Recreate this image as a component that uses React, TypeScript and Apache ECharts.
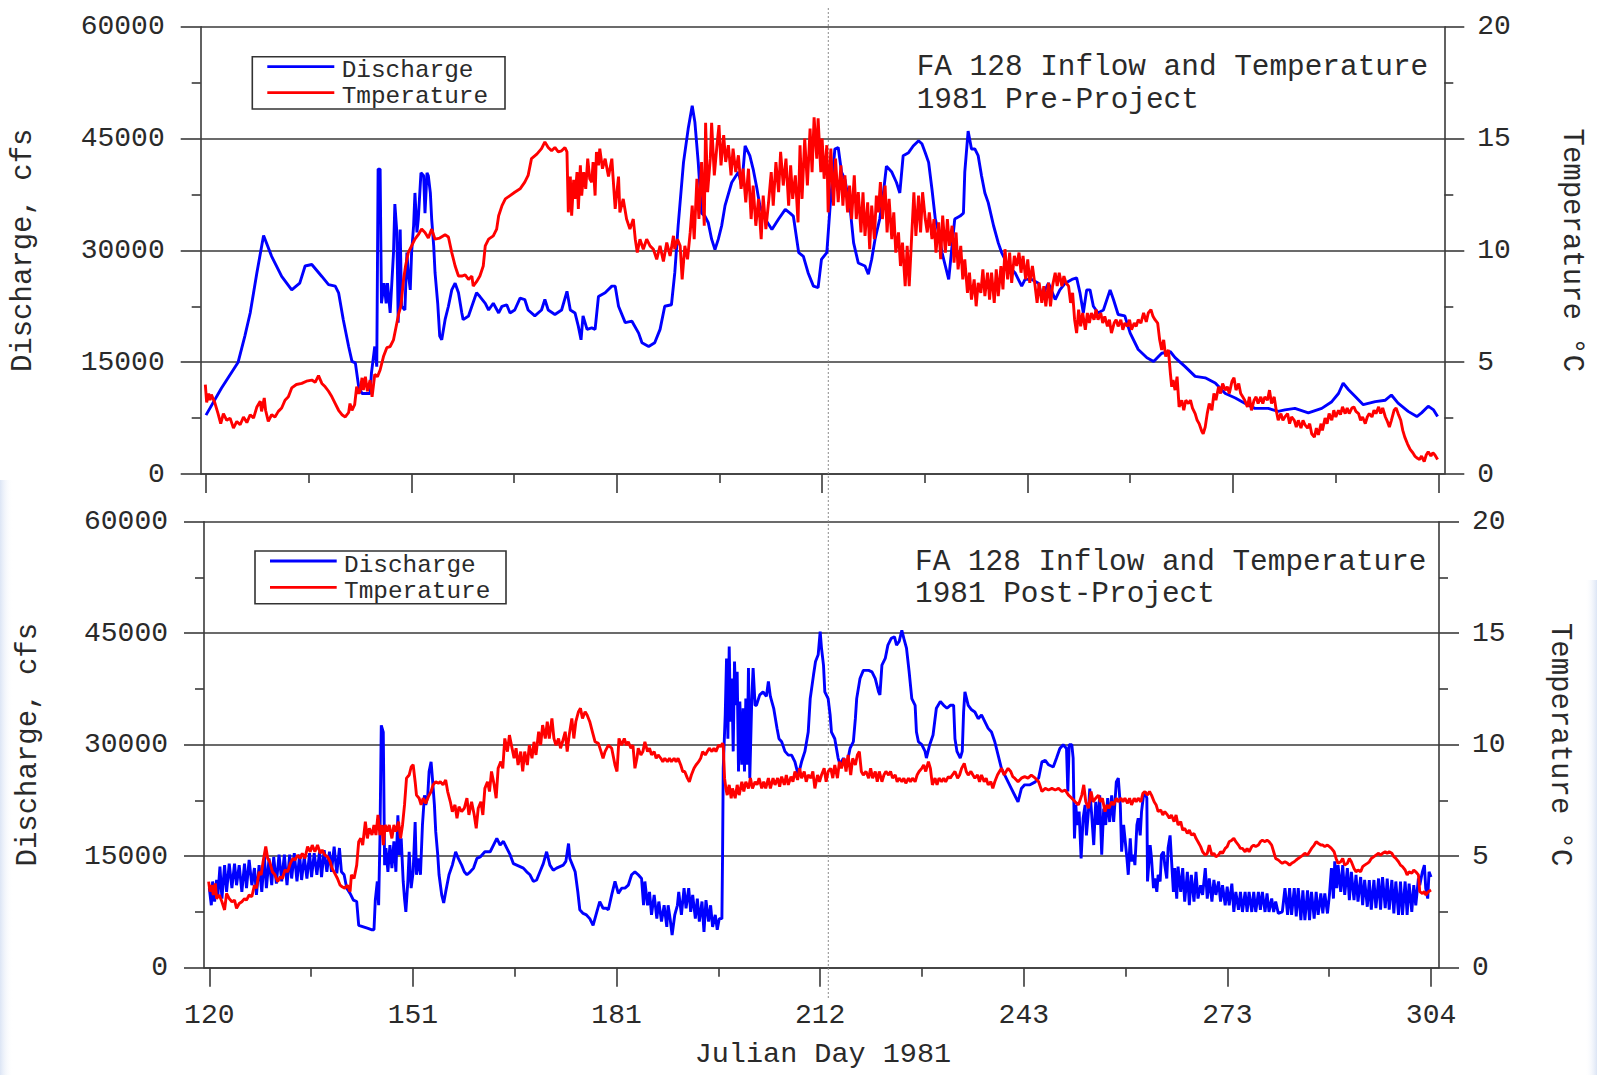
import React, { useEffect, useRef } from "react";
import * as echarts from "echarts";

// ---------------- DATA ----------------
// Julian day 1981, discharge in cfs, temperature in °C

const majorDayTicks = [120, 150.667, 181.333, 212, 242.667, 273.333, 304];
const minorDayTicks = [135.333, 166, 196.667, 227.333, 258, 288.667];

const preDischarge: [number, number][] = [
[120,7900],[122.3,11500],[124.8,15000],[125.8,18500],[126.6,21600],[127.6,27000],[128.6,32000],[129.8,29200],[131.3,26500],[132.8,24700],[134.0,25600],[134.8,27900],[135.8,28100],[137.3,26500],[138.3,25400],[139.3,25200],[139.8,24300],[140.5,20700],[141.3,17100],[141.8,15100],[142.3,14900],[142.8,11700],[143.3,10800],[144.5,10800],[144.7,13500],[145.2,17100],[145.5,14400],[145.7,40900],[146.0,40900],[146.2,22900],[146.6,25600],[146.9,22900],[147.1,25600],[147.5,21600],[148.0,29700],[148.2,36200],[148.5,32400],[148.7,20300],[149.0,32800],[149.2,22500],[149.7,22000],[150.0,29700],[150.2,27000],[150.5,24700],[150.7,29700],[151.0,33300],[151.2,37700],[151.5,32400],[151.7,34200],[152.1,40400],[152.5,40000],[152.7,35000],[153.0,40400],[153.2,40000],[153.5,37700],[153.7,34200],[154.0,30600],[154.2,27000],[154.6,22900],[154.9,18500],[155.2,18000],[155.7,20700],[156.2,22500],[156.7,24700],[157.2,25600],[157.7,24300],[158.2,21600],[158.4,20700],[159.2,21200],[159.7,22500],[160.4,24300],[160.9,23800],[161.7,22900],[162.2,22000],[162.9,22900],[163.7,21600],[164.2,22500],[164.9,22700],[165.4,21600],[166.1,22000],[166.9,23600],[167.6,23400],[168.1,22000],[169.1,21200],[170.1,22000],[170.6,23400],[171.1,22000],[172.1,21400],[173.1,22000],[173.9,24500],[174.4,22000],[175.1,21600],[175.6,19800],[176.0,18000],[176.3,21200],[176.9,19400],[177.6,19600],[178.1,19400],[178.6,23800],[179.6,24300],[180.6,25200],
[181.1,25200],[181.6,22500],[182.6,20300],[183.6,20500],[184.6,18900],[185.1,17600],[186.1,17100],[187.0,17600],[187.8,19400],[188.5,22500],[189.5,22700],[190.0,27000],[190.5,33300],[191.3,41800],[192.0,46300],[192.6,49400],[193.0,47200],[193.5,41800],[194.0,35000],[194.5,34600],[195.0,33700],[195.5,31500],[196.0,30100],[196.5,31500],[197.0,33300],[197.5,36000],[198.5,39100],[199.5,40500],[200.0,38600],[200.5,44000],[201.2,42700],[201.7,40900],[202.2,38600],[202.7,36000],[203.5,34200],[204.5,32800],[205.5,34200],[206.5,35500],[207.2,35000],[207.7,34600],[208.5,29700],[209.2,29200],[209.9,27000],[210.7,25200],[211.4,25000],[211.9,28800],[212.7,29700],[213.2,36000],[213.9,43600],[214.4,43800],[214.9,40500],[215.4,39500],[216.2,35500],[216.7,31000],[217.4,28300],[218.4,27900],[218.9,26800],[219.4,28800],[219.9,31500],[220.6,34200],[221.1,37300],[221.6,41300],[222.4,40500],[223.1,39100],[223.6,37700],[224.1,42700],[224.9,43100],[225.6,44000],[226.4,44700],[226.9,44300],[227.4,43100],[227.9,41800],[228.4,38200],[228.9,34200],[229.4,32400],[229.9,29700],[230.4,27900],[230.9,26100],[231.3,29700],[231.8,34200],[232.6,34600],[233.1,35000],[233.3,40500],[233.8,46000],[234.3,43600],[234.8,43600],[235.3,42700],[235.8,40000],[236.3,37700],[236.8,36400],[237.6,33300],[238.3,31000],[238.8,29700],[239.8,27900],[240.8,27000],
[241.8,25200],[242.3,26100],[243.3,26100],[244.3,25600],[244.8,23800],[245.8,25600],[246.8,23400],[247.5,24700],[248.3,25600],[249.3,26100],[250.0,26300],[250.5,24300],[251.0,21600],[251.5,24700],[252.0,24700],[252.5,22500],[253.2,21600],[254.0,22000],[255.0,24700],[255.5,23400],[256.2,21400],[257.2,21200],[258.0,18900],[259.2,16700],[260.5,15600],[261.5,15100],[262.7,16200],[264.0,16400],[264.7,15600],[266.2,14400],[267.7,13100],[269.2,12900],[270.7,12200],[272.2,10800],[273.7,10200],[275.1,9500],[276.6,8800],[278.6,8800],[280.1,8400],[281.1,8600],[282.6,8800],[284.6,8200],[286.6,8800],[288.1,9700],[289.1,10800],[289.8,12200],[290.6,11300],[291.6,10400],[292.8,9300],[294.6,9700],[296.1,9900],[297.0,10600],[298.0,9500],[299.5,8400],[300.8,7700],[301.5,8200],[302.5,9100],[303.3,8600],[303.9,7700]
];

const preTemperature: [number, number][] = [
[119.9,4.0],[120.1,3.2],[120.4,3.6],[120.6,3.3],[120.8,3.55],[121.3,3.2],[121.8,2.7],[122.2,2.25],[122.6,2.7],[123.1,2.4],[123.6,2.5],[124.1,2.05],[124.6,2.35],[125.1,2.2],[125.6,2.55],[126.1,2.3],[126.6,2.65],[127.1,2.5],[127.6,3.0],[128.1,3.25],[128.3,2.8],[128.7,3.4],[128.9,2.85],[129.3,2.35],[129.8,2.65],[130.3,2.55],[130.8,2.8],[131.3,2.95],[131.8,3.3],[132.3,3.45],[132.8,3.85],[133.5,4.0],[134.3,4.05],[135.0,4.15],[135.8,4.2],[136.3,4.1],[136.8,4.4],[137.3,4.05],[137.8,3.9],[138.3,3.7],[138.8,3.45],[139.3,3.15],[139.8,2.85],[140.3,2.65],[140.8,2.55],[141.3,2.75],[141.5,3.15],[141.8,2.85],[142.2,3.1],[142.5,3.9],[142.8,3.6],[143.0,3.7],[143.3,4.3],[143.5,3.75],[143.8,4.35],[144.1,3.7],[144.5,4.2],[144.8,3.45],[145.2,4.45],[145.6,4.35],[146.0,4.65],[146.5,5.25],[147.0,5.65],[147.5,5.7],[148.0,6.0],[148.5,6.75],[148.8,7.2],[149.1,7.5],[149.5,8.7],[149.8,9.3],[150.2,9.9],[150.7,10.2],[151.2,10.5],[151.7,10.7],[152.2,10.95],[152.7,10.8],[153.2,10.55],[153.7,10.95],[154.2,10.5],[154.9,10.55],[155.7,10.7],[156.2,10.6],[156.7,9.9],[157.2,9.3],[157.7,8.85],[158.2,8.85],[158.7,8.9],[159.2,8.7],[159.7,8.85],[159.9,8.4],[160.4,8.6],[160.9,8.85],[161.4,9.3],[161.7,10.2],[162.2,10.5],[162.9,10.65],[163.4,10.95],[163.7,11.55],[164.2,12.0],[164.7,12.3],[165.4,12.45],[166.1,12.6],[166.9,12.75],[167.6,13.05],[168.1,13.35],[168.6,14.1],[169.4,14.3],[170.1,14.55],[170.6,14.85],[171.1,14.6],[171.6,14.45],[172.1,14.6],[172.6,14.4],[173.1,14.45],[173.6,14.6],[173.9,14.4],[174.1,11.7],[174.4,13.3],[174.6,11.55],[174.9,13.15],[175.1,12.3],[175.4,13.5],[175.6,11.85],[175.9,13.8],[176.1,12.45],[176.4,13.5],[176.7,12.75],[177.0,14.1],[177.3,13.2],[177.6,13.05],[177.8,13.95],[178.1,12.45],[178.3,14.4],[178.6,13.8],[178.8,14.55],[179.2,13.65],[179.6,14.1],
[180.1,13.3],[180.6,14.1],[180.8,13.2],[181.1,11.85],[181.6,13.3],[181.8,11.7],[182.3,12.3],[182.8,11.4],[183.3,10.95],[183.8,11.4],[184.1,10.5],[184.4,9.9],[184.8,10.5],[185.3,10.05],[185.8,10.5],[186.3,10.2],[186.8,10.05],[187.3,9.6],[187.8,10.2],[188.3,9.5],[188.8,10.35],[189.3,9.75],[189.8,10.65],[190.0,10.05],[190.4,10.5],[190.8,10.2],[191.1,8.7],[191.5,10.2],[191.9,9.6],[192.3,10.8],[192.6,12.0],[192.9,10.5],[193.3,13.2],[193.6,11.4],[194.0,13.95],[194.4,11.1],[194.6,15.7],[194.9,12.6],[195.3,14.1],[195.5,15.7],[195.9,13.35],[196.3,14.7],[196.6,15.6],[196.9,13.8],[197.3,15.15],[197.6,13.95],[198.0,14.7],[198.4,13.35],[198.7,14.55],[199.1,13.5],[199.5,14.25],[199.9,12.75],[200.2,13.65],[200.6,12.15],[201.0,13.65],[201.4,11.4],[201.7,12.9],[202.1,11.1],[202.5,12.3],[202.9,10.5],[203.2,12.45],[203.6,10.95],[204.0,12.15],[204.4,13.5],[204.7,12.0],[205.1,13.95],[205.5,12.6],[205.8,14.4],[206.2,12.9],[206.6,14.1],[207.0,12.0],[207.3,13.8],[207.6,12.3],[208.0,13.35],[208.4,11.25],[208.7,14.7],[209.0,12.3],[209.4,15.0],[209.8,12.9],[210.2,15.45],[210.5,13.5],[210.8,15.95],[211.2,14.1],[211.4,15.9],[211.8,13.5],[212.0,15.0],[212.3,13.2],[212.7,14.7],[212.9,11.7],[213.3,14.55],[213.7,12.0],[214.0,14.1],[214.4,12.15],[214.8,13.8],[215.1,12.0],[215.4,13.35],[215.8,11.7],[216.1,12.9],[216.4,11.4],[216.8,13.35],[217.1,11.4],[217.4,12.6],[217.8,10.8],[218.1,12.6],[218.4,10.65],[218.8,12.15],[219.1,10.05],[219.4,12.0],[219.8,10.5],[220.1,12.45],[220.4,11.7],[220.7,13.05],[221.0,11.4],[221.4,12.9],[221.7,10.8],[222.0,12.3],[222.4,10.5],[222.7,11.7],[223.0,9.9],[223.4,10.8],[223.7,9.3],[224.0,10.35],[224.4,8.4],[224.7,10.2],[225.0,8.4],[225.4,10.8],[225.7,12.6],[226.0,10.65],[226.4,12.45],[226.7,10.8],[227.0,12.6],[227.4,11.4],[227.7,10.8],[228.0,11.7],[228.4,10.5],[228.7,11.4],[229.0,9.9],[229.4,11.25],[229.7,9.6],[230.0,11.55],[230.4,9.9],[230.7,11.4],[231.0,10.2],[231.4,11.1],[231.7,9.45],[232.0,10.8],[232.3,9.15],[232.7,10.2],[233.0,8.7],[233.3,9.6],[233.7,8.1],[234.0,9.0],[234.3,7.8],[234.7,8.7],[235.0,7.5],[235.3,8.55],[235.7,8.1],[236.0,9.15],[236.3,7.95],[236.7,9.0],[237.0,7.8],[237.3,9.0],[237.7,7.65],[238.0,9.15],[238.3,7.95],[238.7,9.3],[239.0,8.25],[239.3,10.05],[239.7,8.7],[240.0,9.9],[240.3,8.55],[240.7,9.75],
[241.05,9.3],[241.4,9.9],[241.7,9.0],[242.0,9.75],[242.4,8.7],[242.7,9.6],[243.0,8.55],[243.4,9.3],[243.8,8.4],[244.1,7.65],[244.4,8.55],[244.8,7.65],[245.1,8.4],[245.4,7.5],[245.8,8.55],[246.1,7.5],[246.4,8.4],[246.8,9.0],[247.1,8.4],[247.4,9.0],[247.8,8.4],[248.1,8.85],[248.4,8.55],[248.8,8.4],[249.1,7.65],[249.4,8.1],[249.7,6.9],[250.0,6.3],[250.3,7.35],[250.6,6.6],[250.9,7.2],[251.3,6.45],[251.6,7.2],[251.9,6.75],[252.2,7.2],[252.6,6.9],[252.9,7.35],[253.2,6.9],[253.6,7.2],[253.9,6.75],[254.2,7.05],[254.6,6.6],[254.9,6.9],[255.2,6.3],[255.6,6.75],[255.9,6.9],[256.2,6.6],[256.6,6.9],[256.9,6.45],[257.2,6.75],[257.6,6.6],[257.9,6.9],[258.2,6.45],[258.6,6.75],[258.9,6.6],[259.2,6.9],[259.6,6.75],[260.0,7.2],[260.4,6.8],[260.7,7.2],[261.1,7.35],[261.4,7.05],[261.7,6.9],[262.1,6.75],[262.4,6.0],[262.7,5.55],[263.0,6.0],[263.3,5.25],[263.7,5.55],[264.0,4.5],[264.2,3.9],[264.4,4.2],[264.7,3.75],[265.0,4.35],[265.3,3.0],[265.7,3.3],[266.0,2.85],[266.3,3.3],[266.7,3.15],[267.0,3.3],[267.3,2.95],[267.7,2.7],[268.0,2.4],[268.3,2.25],[268.7,1.9],[268.9,1.8],[269.2,2.1],[269.5,2.7],[269.8,3.15],[270.2,2.85],[270.5,3.6],[270.8,3.3],[271.2,3.9],[271.5,3.6],[271.8,4.05],[272.2,3.75],[272.5,3.9],[272.8,3.6],[273.2,4.15],[273.5,4.3],[273.8,3.75],[274.2,4.05],[274.5,3.6],[274.8,3.45],[275.1,3.3],[275.5,3.0],[275.8,3.45],[276.1,2.85],[276.5,3.3],[276.8,3.45],[277.1,3.15],[277.5,3.45],[277.8,3.15],[278.1,3.45],[278.5,3.3],[278.8,3.75],[279.1,3.15],[279.5,3.45],[279.8,2.85],[280.1,2.4],[280.5,2.7],[280.8,2.4],[281.1,2.55],[281.5,2.7],[281.8,2.25],[282.1,2.55],[282.5,2.4],[282.8,2.1],[283.1,2.4],[283.5,2.05],[283.8,2.4],[284.1,2.2],[284.5,2.05],[284.8,2.25],[285.1,1.8],[285.5,1.65],[285.8,2.05],[286.1,1.75],[286.5,2.25],[286.7,1.95],[287.1,2.5],[287.4,2.25],[287.7,2.7],[288.1,2.4],[288.4,2.85],[288.7,2.55],[289.1,2.85],[289.4,2.65],[289.7,3.0],[290.1,2.7],[290.4,2.95],[290.7,2.7],[291.1,2.95],[291.4,3.0],[291.7,2.8],[292.1,2.7],[292.4,2.4],[292.7,2.55],[293.1,2.25],[293.4,2.55],[293.7,2.7],[294.1,2.55],[294.4,2.85],[294.7,2.7],[295.1,3.0],[295.4,2.7],[295.7,2.95],[296.1,2.55],[296.4,2.35],[296.7,2.1],[297.0,2.4],[297.4,2.85],[297.7,2.95],[298.0,2.7],[298.4,2.4],[298.7,1.95],[299.0,1.65],[299.4,1.35],[299.8,1.1],[300.2,0.95],[300.5,0.8],[300.9,0.7],[301.2,0.65],[301.5,0.8],[301.9,0.55],[302.2,0.85],[302.5,1.0],[302.9,0.8],[303.2,0.95],[303.5,0.85],[303.9,0.65]
];

const postDischarge: [number, number][] = [
[120.0,10700],[120.3,8400],[120.5,11600],[120.8,8900],[121.1,11800],[121.3,9800],[121.6,13600],[121.9,9300],[122.3,13800],[122.6,10200],[123.0,14000],[123.4,10700],[123.8,14000],[124.1,11100],[124.5,13800],[124.9,10200],[125.3,14000],[125.6,10700],[126.0,14500],[126.4,11100],[126.8,13400],[127.1,9800],[127.5,13800],[127.9,10200],[128.3,14900],[128.6,10700],[129.0,14700],[129.4,11100],[129.7,14900],[130.1,11300],[130.5,15200],[130.9,11600],[131.3,15200],[131.7,11100],[132.1,15200],[132.4,12000],[132.8,15400],[133.2,11600],[133.6,15200],[133.9,11800],[134.3,14900],[134.7,12000],[135.1,15400],[135.4,12200],[135.8,15400],[136.2,12500],[136.6,15600],[136.9,12200],[137.3,15800],[137.7,12900],[138.1,15600],[138.4,12900],[138.8,16300],[139.2,12700],[139.6,16100],[139.9,12900],[140.3,12500],[140.7,10700],[141.2,10000],[141.7,9100],[142.2,8900],[142.5,5700],[143.2,5500],[143.9,5300],[144.5,5100],[144.8,5100],[145.0,9100],[145.3,11600],[145.5,8400],[145.7,17400],[145.9,32600],[146.2,31700],[146.4,13800],[146.6,16100],[146.9,12900],[147.2,16500],[147.5,13400],[147.8,17000],[148.1,12900],[148.4,20500],[148.6,15200],[148.9,17400],[149.2,11600],[149.4,9300],[149.6,7500],[149.9,11600],[150.1,15600],[150.4,10700],[150.7,12900],[151.0,19600],[151.2,12500],[151.5,14700],[151.8,12500],[152.1,19200],[152.4,23200],[152.6,21900],[152.9,23200],[153.1,26400],[153.4,27700],[153.6,25500],[153.9,21900],[154.1,18300],[154.4,15200],[154.6,12500],[155.0,9800],[155.3,8700],[155.6,10200],[156.1,12500],[156.6,13800],[157.1,15600],[157.5,14700],[158.0,13800],[158.4,12900],[158.8,12500],[159.3,12900],[159.8,13400],[160.3,14700],[160.8,14900],[161.5,15600],[162.3,15600],[162.8,16500],[163.3,17400],[163.8,16500],[164.3,17000],[164.8,16100],[165.3,15200],[165.8,14000],[166.3,13800],[166.8,13600],[167.3,13400],[167.8,12900],[168.3,12500],[168.8,11600],[169.3,11800],[169.8,12900],[170.3,14000],[170.8,15600],[171.3,13800],[171.8,13100],[172.3,13400],[172.8,13600],[173.3,13800],[173.7,14300],[174.1,16700],[174.3,14700],[174.7,13800],[175.1,12900],[175.5,10200],[175.8,7800],[176.3,7300],[176.8,7100],[177.3,6600],[177.8,5700],[178.3,7300],[178.8,8900],[179.3,8000],[179.8,8000],
[180.1,7800],[180.6,9800],[181.1,11600],[181.6,10000],[182.1,10700],[182.6,10700],[183.1,11100],[183.6,12500],[184.1,12900],[184.6,12500],[185.1,12000],[185.4,8400],[185.6,11600],[186.0,8400],[186.3,10200],[186.6,7100],[187.0,9800],[187.4,6600],[187.7,8900],[188.1,6200],[188.5,8400],[188.9,5500],[189.1,8400],[189.4,6600],[189.7,4400],[190.1,7100],[190.5,8400],[190.7,10200],[191.1,7100],[191.5,10700],[191.8,8000],[192.2,10700],[192.5,7500],[192.8,9800],[193.2,6600],[193.5,9300],[193.8,6200],[194.2,8900],[194.5,4800],[194.8,9100],[195.2,6200],[195.5,8400],[195.8,5500],[196.2,7100],[196.5,5100],[196.8,6600],[197.2,6600],[197.3,15200],[197.4,26800],[197.7,34000],[197.9,41600],[198.1,30800],[198.3,43200],[198.5,33100],[198.7,38900],[198.9,29100],[199.1,41200],[199.3,35300],[199.5,39800],[199.7,26400],[199.9,35800],[200.2,27300],[200.4,34900],[200.6,26400],[200.8,36200],[201.0,27300],[201.2,40300],[201.4,25500],[201.7,36200],[201.9,40300],[202.2,35300],[202.4,35300],[202.9,36700],[203.4,37100],[203.9,36500],[204.2,38500],[204.5,36500],[205.0,34900],[205.5,32200],[205.8,30800],[206.2,30400],[206.7,29100],[207.2,28600],[207.7,28600],[208.2,27700],[208.7,25900],[209.2,27700],[209.7,29100],[210.2,31700],[210.5,36200],[211.0,39400],[211.3,41200],[211.7,42100],[212.0,45200],[212.2,43000],[212.5,40700],[212.7,37100],[213.2,36200],[213.5,34000],[213.7,31700],[214.2,30800],[214.7,28200],[215.0,27300],[215.5,28200],[216.0,27300],[216.5,29500],[217.0,30400],[217.3,33500],[217.5,36200],[218.0,38900],[218.5,40000],[219.3,40000],[219.8,39800],[220.3,38900],[220.8,37100],[221.0,36700],[221.3,40700],[221.8,41600],[222.2,43400],[222.7,44300],[223.2,44500],[223.5,43400],[223.9,43900],[224.3,45400],[224.6,44300],[225.0,43000],[225.4,39800],[225.8,36200],[226.3,35300],[226.5,31700],[226.8,30400],[227.3,30000],[227.8,29100],[228.0,28200],[228.5,30000],[229.0,31300],[229.5,34900],[230.1,35800],[230.6,35300],[231.1,34900],[231.6,35300],[232.1,35300],[232.3,30800],[232.6,29100],[233.1,28200],[233.4,29100],[233.6,34400],[233.8,37100],[234.3,35300],[234.8,34700],[235.3,34400],[235.8,33500],[236.3,34000],[236.8,33100],[237.3,32200],[237.8,31700],[238.3,30400],[238.8,28600],[239.3,26800],[239.8,25900],[240.3,25000],[240.8,24100],[241.3,23200],[241.8,22300],
[242.3,24100],[242.8,24600],[243.6,24600],[244.4,25000],[244.9,25500],[245.4,27700],[245.9,27900],[246.4,27300],[247.1,27000],[247.6,28200],[248.1,29500],[248.6,30000],[249.1,29500],[249.3,23700],[249.5,30000],[249.9,30000],[250.1,28200],[250.3,17400],[250.5,21900],[250.7,19200],[251.0,21000],[251.3,14700],[251.6,20100],[251.9,21900],[252.1,17800],[252.4,21000],[252.6,24100],[252.9,20500],[253.2,16500],[253.5,22300],[253.8,19200],[254.1,23200],[254.4,15200],[254.7,21400],[255.0,19200],[255.3,22800],[255.6,19600],[255.9,23200],[256.2,19600],[256.6,25000],[256.9,25500],[257.2,21900],[257.4,15600],[257.7,19200],[257.9,17400],[258.2,14700],[258.4,12500],[258.7,17400],[258.9,14300],[259.2,15200],[259.4,13800],[259.7,19200],[259.9,20100],[260.2,17800],[260.4,21000],[260.7,23200],[260.9,23700],[261.2,22800],[261.3,11600],[261.7,16500],[261.9,14700],[262.2,10700],[262.4,12000],[262.7,10200],[262.9,12500],[263.2,11600],[263.4,15200],[263.7,15600],[263.9,13800],[264.2,12000],[264.4,16100],[264.7,17800],[264.9,14700],[265.2,10200],[265.4,13400],[265.7,9300],[265.9,13600],[266.3,10200],[266.6,13400],[266.9,8900],[267.3,12900],[267.6,8400],[267.9,12500],[268.3,8900],[268.6,12900],[268.9,9300],[269.3,11100],[269.6,9800],[270.0,13400],[270.3,9300],[270.6,12000],[271.0,8900],[271.3,11800],[271.6,9800],[272.0,11600],[272.3,8900],[272.6,11100],[273.0,8400],[273.3,10900],[273.6,8400],[274.0,11300],[274.3,7500],[274.6,10200],[275.0,7800],[275.3,10200],[275.6,7500],[276.0,10200],[276.3,7500],[276.6,10200],[277.0,7500],[277.3,10200],[277.6,7500],[278.0,10200],[278.3,7800],[278.6,10200],[279.0,7500],[279.3,10000],[279.6,7500],[280.0,9300],[280.3,7500],[280.6,8900],[281.0,7300],[281.6,7500],[282.0,10700],[282.4,7100],[282.7,10700],[283.0,7100],[283.4,10700],[283.7,6900],[284.0,10700],[284.4,6400],[284.7,10400],[285.0,6400],[285.4,10400],[285.7,6400],[286.0,10200],[286.4,6600],[286.7,10200],[287.0,7100],[287.4,10000],[287.7,7300],[288.0,10000],[288.4,7300],[288.7,9800],[289.0,13400],[289.3,9300],[289.5,14300],[289.8,10700],[290.0,13800],[290.4,10200],[290.7,13800],[291.0,9800],[291.4,13400],[291.7,9100],[292.0,12900],[292.4,9100],[292.7,12500],[293.0,8900],[293.4,12200],[293.7,8400],[294.0,11800],[294.4,8200],[294.7,11800],[295.0,7800],[295.4,11800],[295.7,8000],[296.1,12000],[296.4,7800],[296.7,12200],[297.1,8000],[297.4,12000],[297.7,7800],[298.1,11800],[298.4,7300],[298.7,11600],[299.1,7100],[299.4,11600],[299.7,7100],[300.1,11600],[300.4,7100],[300.7,11300],[301.1,7500],[301.4,11100],[301.7,8400],[302.1,12000],[302.3,11100],[302.7,12900],[303.0,13800],[303.2,10700],[303.5,9300],[303.7,12900],[304.0,12200]
];

const postTemperature: [number, number][] = [
[119.9,3.86],[120.1,3.41],[120.4,3.7],[120.6,3.26],[120.9,3.78],[121.1,3.1],[121.5,3.26],[121.9,2.96],[122.3,2.59],[122.6,3.33],[123.0,3.1],[123.4,2.96],[123.8,3.03],[124.1,2.66],[124.5,2.88],[124.9,2.96],[125.3,3.1],[125.6,3.03],[126.0,3.26],[126.4,3.18],[126.8,3.7],[127.1,3.56],[127.5,4.3],[127.8,4.16],[128.1,4.75],[128.5,5.43],[128.8,4.9],[129.1,4.75],[129.5,4.3],[129.9,4.16],[130.3,3.86],[130.7,4.08],[131.0,4.0],[131.4,4.38],[131.8,4.3],[132.2,4.68],[132.6,4.9],[132.9,4.83],[133.3,5.05],[133.7,4.9],[134.0,5.13],[134.4,4.9],[134.8,5.43],[135.2,5.2],[135.5,5.5],[135.9,5.2],[136.3,5.5],[136.7,5.13],[137.0,5.28],[137.4,5.05],[137.8,4.98],[138.2,4.75],[138.5,4.45],[138.9,4.23],[139.3,4.0],[139.7,3.7],[140.0,3.63],[140.4,3.56],[140.8,3.7],[141.2,3.41],[141.4,4.16],[141.8,4.0],[142.2,4.6],[142.5,5.65],[142.8,5.8],[143.1,5.5],[143.5,6.55],[143.8,5.8],[144.1,6.25],[144.5,5.95],[144.8,6.4],[145.1,5.95],[145.4,6.85],[145.7,5.95],[146.0,6.4],[146.2,5.5],[146.5,6.4],[146.8,6.1],[147.1,6.4],[147.5,5.8],[147.8,6.4],[148.1,6.1],[148.5,6.55],[148.8,5.8],[149.1,6.4],[149.4,7.3],[149.7,8.5],[150.1,8.64],[150.4,9.0],[150.7,9.1],[151.0,8.34],[151.2,7.74],[151.6,7.6],[151.9,7.3],[152.2,7.6],[152.6,7.37],[153.0,7.67],[153.4,7.9],[153.7,8.2],[154.1,8.34],[154.5,8.27],[154.8,8.34],[155.2,8.2],[155.6,8.42],[155.9,7.9],[156.3,7.44],[156.6,7.0],[157.0,7.3],[157.3,6.7],[157.6,7.22],[158.0,7.0],[158.4,7.15],[158.8,7.6],[159.1,6.85],[159.5,7.44],[159.9,6.85],[160.2,6.25],[160.5,7.15],[160.9,7.44],[161.2,6.85],[161.5,8.04],[161.9,8.34],[162.2,7.9],[162.5,8.8],[162.9,8.2],[163.2,7.6],[163.5,8.94],[163.9,9.24],[164.2,8.94],[164.5,10.28],[164.9,9.69],[165.2,10.43],[165.5,9.98],[165.9,9.39],[166.2,9.84],[166.5,9.09],[166.9,9.69],[167.2,8.8],[167.5,9.69],[167.9,9.09],[168.2,9.98],[168.6,9.39],[168.9,10.13],[169.2,9.54],[169.6,10.58],[169.9,9.98],[170.2,10.88],[170.6,10.28],[170.9,11.03],[171.2,10.28],[171.6,11.18],[171.9,10.28],[172.2,9.98],[172.6,10.28],[172.9,9.84],[173.2,10.13],[173.6,10.58],[173.9,9.69],[174.2,10.43],[174.6,11.18],[174.9,10.28],[175.2,11.03],[175.6,11.48],[175.9,11.63],[176.2,11.18],[176.6,11.48],[176.9,11.33],[177.3,11.03],[177.7,10.58],[178.1,10.13],[178.6,10.06],[179.0,9.69],[179.3,9.39],
[179.6,9.69],[180.1,9.98],[180.6,9.84],[181.1,9.09],[181.4,8.8],[181.7,10.28],[182.1,9.98],[182.5,10.28],[182.8,9.98],[183.1,10.13],[183.5,9.84],[183.8,9.98],[184.1,8.94],[184.4,9.39],[184.6,9.84],[185.0,9.54],[185.3,9.69],[185.6,10.13],[186.0,9.69],[186.3,9.84],[186.6,9.54],[187.0,9.69],[187.3,9.39],[187.6,9.54],[188.0,9.39],[188.3,9.24],[188.6,9.39],[189.0,9.24],[189.3,9.39],[189.6,9.24],[190.0,9.39],[190.3,9.24],[190.6,9.39],[191.0,9.09],[191.3,8.8],[191.6,8.8],[192.0,8.5],[192.3,8.34],[192.6,8.64],[193.0,8.94],[193.3,9.09],[193.7,9.24],[194.0,9.39],[194.3,9.69],[194.7,9.54],[195.0,9.69],[195.3,9.84],[195.7,9.69],[196.0,9.84],[196.3,9.69],[196.7,9.98],[197.0,9.91],[197.3,10.06],[197.4,9.98],[197.6,8.5],[197.8,8.04],[198.0,7.74],[198.3,8.2],[198.6,7.6],[198.8,8.04],[199.2,7.6],[199.5,8.2],[199.8,7.74],[200.2,8.34],[200.5,7.9],[200.8,8.34],[201.2,8.04],[201.5,8.5],[201.8,8.04],[202.2,8.34],[202.5,8.2],[202.8,8.5],[203.2,8.04],[203.5,8.34],[203.8,8.04],[204.2,8.5],[204.5,8.04],[204.9,8.5],[205.2,8.2],[205.6,8.5],[205.9,8.12],[206.2,8.57],[206.6,8.2],[206.9,8.64],[207.2,8.2],[207.6,8.57],[207.9,8.34],[208.2,8.8],[208.6,8.42],[208.9,8.94],[209.2,8.5],[209.6,8.8],[209.9,8.34],[210.2,8.64],[210.6,8.5],[210.9,8.8],[211.2,8.04],[211.6,8.64],[211.9,8.34],[212.2,8.64],[212.6,8.94],[212.9,8.34],[213.2,8.8],[213.6,8.94],[213.9,8.5],[214.2,9.09],[214.6,8.5],[214.9,9.24],[215.2,8.94],[215.6,9.39],[215.9,8.8],[216.2,9.54],[216.6,8.64],[216.9,9.39],[217.3,9.09],[217.6,9.54],[217.9,9.69],[218.2,8.8],[218.5,8.64],[218.9,8.8],[219.3,8.5],[219.6,8.94],[219.9,8.5],[220.3,8.8],[220.6,8.34],[220.9,8.8],[221.3,8.34],[221.6,8.64],[221.9,8.8],[222.3,8.64],[222.6,8.8],[222.9,8.5],[223.3,8.64],[223.6,8.34],[223.9,8.5],[224.3,8.34],[224.6,8.5],[224.9,8.27],[225.3,8.5],[225.6,8.34],[225.9,8.5],[226.3,8.34],[226.6,8.64],[226.9,8.8],[227.3,8.94],[227.6,9.09],[227.9,8.8],[228.3,9.24],[228.6,8.94],[228.9,8.2],[229.3,8.5],[229.6,8.2],[229.9,8.5],[230.3,8.34],[230.6,8.5],[230.9,8.34],[231.3,8.57],[231.6,8.5],[231.9,8.64],[232.3,8.8],[232.7,8.5],[233.0,8.64],[233.3,8.94],[233.7,9.16],[234.0,8.8],[234.3,8.64],[234.7,8.8],[235.0,8.64],[235.3,8.5],[235.7,8.64],[236.0,8.34],[236.3,8.64],[236.7,8.34],[237.0,8.5],[237.3,8.2],[237.7,8.34],[238.0,8.04],[238.3,8.34],[238.7,8.64],[239.0,8.8],[239.3,8.94],[239.7,8.64],[240.0,8.8],[240.3,8.94],[240.7,8.8],[241.0,8.57],
[241.3,8.5],[241.8,8.34],[242.3,8.5],[242.8,8.57],[243.3,8.5],[243.8,8.64],[244.4,8.5],[244.9,8.34],[245.4,7.9],[245.9,8.04],[246.4,7.97],[246.9,8.04],[247.4,7.97],[247.9,8.04],[248.4,7.9],[248.9,7.97],[249.4,7.74],[249.9,7.6],[250.4,7.44],[250.9,7.3],[251.4,7.74],[251.7,8.2],[252.0,7.44],[252.4,7.15],[252.8,7.9],[253.1,7.44],[253.5,7.6],[253.9,7.74],[254.2,7.44],[254.5,7.6],[254.9,7.0],[255.2,7.3],[255.5,7.15],[255.9,7.44],[256.2,7.3],[256.6,7.6],[256.9,7.44],[257.3,7.6],[257.6,7.44],[257.9,7.6],[258.3,7.37],[258.6,7.6],[258.9,7.3],[259.3,7.6],[259.6,7.44],[259.9,7.6],[260.3,7.44],[260.6,7.82],[260.9,7.9],[261.3,7.74],[261.6,7.9],[261.9,7.74],[262.3,7.44],[262.6,7.3],[262.9,7.0],[263.3,7.07],[263.6,6.85],[263.9,7.0],[264.3,6.85],[264.6,6.7],[264.9,6.85],[265.3,6.55],[265.6,6.85],[265.9,6.4],[266.3,6.55],[266.6,6.17],[266.9,6.25],[267.3,6.02],[267.6,6.17],[267.9,5.95],[268.3,6.02],[268.6,5.8],[268.9,5.65],[269.3,5.43],[269.6,5.2],[270.0,5.05],[270.3,5.13],[270.6,5.5],[271.0,5.05],[271.3,5.13],[271.6,4.98],[272.0,5.05],[272.3,5.2],[272.6,5.13],[273.0,5.35],[273.3,5.43],[273.6,5.65],[274.0,5.72],[274.3,5.8],[274.6,5.65],[275.0,5.5],[275.3,5.35],[275.6,5.35],[276.0,5.2],[276.3,5.35],[276.6,5.2],[277.0,5.43],[277.3,5.5],[277.6,5.43],[278.0,5.5],[278.3,5.65],[278.6,5.72],[279.0,5.65],[279.3,5.72],[279.6,5.65],[280.0,5.5],[280.3,5.2],[280.6,4.9],[281.0,4.83],[281.3,4.75],[281.6,4.68],[282.0,4.75],[282.4,4.68],[282.7,4.6],[283.0,4.68],[283.4,4.75],[283.7,4.83],[284.0,4.9],[284.4,4.98],[284.7,5.05],[285.0,5.13],[285.4,5.05],[285.7,5.2],[286.0,5.35],[286.4,5.5],[286.7,5.65],[287.0,5.58],[287.4,5.5],[287.7,5.5],[288.0,5.43],[288.4,5.5],[288.7,5.43],[289.0,5.35],[289.4,5.2],[289.7,4.9],[290.0,4.68],[290.4,4.75],[290.7,4.9],[291.0,4.6],[291.4,4.68],[291.7,4.9],[292.0,4.75],[292.4,4.45],[292.7,4.3],[293.0,4.38],[293.4,4.3],[293.7,4.53],[294.0,4.6],[294.4,4.68],[294.7,4.75],[295.0,4.9],[295.4,4.98],[295.7,5.05],[296.1,5.13],[296.4,5.05],[296.7,5.13],[297.1,5.2],[297.4,5.13],[297.7,5.2],[298.1,5.13],[298.4,4.98],[298.7,4.9],[299.1,4.75],[299.4,4.6],[299.7,4.53],[300.1,4.38],[300.4,4.16],[300.7,4.3],[301.1,4.23],[301.4,4.38],[301.7,4.3],[302.1,4.16],[302.3,3.41],[302.7,3.33],[303.0,3.41],[303.2,3.26],[303.6,3.41],[304.0,3.48]
];

const titleLine1 = "FA 128 Inflow and Temperature";
const preTitleLine2 = "1981 Pre-Project";
const postTitleLine2 = "1981 Post-Project";
const legendNames = ["Discharge", "Tmperature"];

// ---------------- STYLE ----------------
const W = 1597;
const H = 1075;
const FONT = '"Liberation Mono", "Courier New", monospace';
const AX = "#3a3a3a";
const TXT = "#2a2a2a";
const BLUE = "#0000ff";
const RED = "#ff0000";

function xAxisPair(gridIndex: number, min: number, max: number, labels: boolean) {
  const major = {
    type: "value", gridIndex, min, max, position: "bottom",
    axisLine: { show: true, onZero: false, lineStyle: { color: AX, width: 1.6 } },
    axisTick: { show: true, inside: false, length: 19, customValues: majorDayTicks, lineStyle: { color: AX, width: 1.6 } },
    axisLabel: {
      show: labels, customValues: majorDayTicks, margin: 34,
      formatter: (v: number) => String(Math.round(v)),
      fontSize: 28, fontFamily: FONT, color: TXT,
    },
    splitLine: { show: false },
  };
  const minor = {
    type: "value", gridIndex, min, max, position: "bottom",
    axisLine: { show: false, onZero: false },
    axisTick: { show: true, inside: false, length: 9, customValues: minorDayTicks, lineStyle: { color: AX, width: 1.6 } },
    axisLabel: { show: false },
    splitLine: { show: false },
  };
  return [major, minor];
}

function yAxisPair(gridIndex: number) {
  const lineStyle = { color: AX, width: 1.6 };
  const plain = (v: number) => String(v);
  const left = {
    type: "value", gridIndex, min: 0, max: 60000, interval: 15000, position: "left",
    axisLine: { show: true, lineStyle },
    axisTick: { show: true, inside: false, length: 20, lineStyle },
    minorTick: { show: true, splitNumber: 2, length: 9, lineStyle },
    axisLabel: { margin: 36, fontSize: 28, fontFamily: FONT, color: TXT, formatter: plain },
    splitLine: { show: true, lineStyle },
  };
  const right = {
    type: "value", gridIndex, min: 0, max: 20, interval: 5, position: "right",
    axisLine: { show: true, lineStyle },
    axisTick: { show: true, inside: false, length: 20, lineStyle },
    minorTick: { show: true, splitNumber: 2, length: 9, lineStyle },
    axisLabel: { margin: 33, fontSize: 28, fontFamily: FONT, color: TXT, formatter: plain },
    splitLine: { show: false },
  };
  return [left, right];
}

function txt(text: string, x: number, y: number, size: number, opts: any = {}) {
  return {
    type: "text", x, y, rotation: opts.rotation || 0, z: 50,
    style: {
      text, fill: TXT, fontSize: size, fontFamily: FONT,
      textAlign: opts.align || "left", textVerticalAlign: "middle",
      align: opts.align || "left", verticalAlign: "middle",
    },
  };
}

function legendBox(x: number, y: number, w: number, h: number, l1: number, l2: number, lx1: number, lx2: number, tx: number, t1: number, t2: number) {
  return [
    { type: "rect", z: 40, shape: { x, y, width: w, height: h }, style: { fill: "#fff", stroke: "#333", lineWidth: 1.6 } },
    { type: "line", z: 41, shape: { x1: lx1, y1: l1, x2: lx2, y2: l1 }, style: { stroke: BLUE, lineWidth: 2.8 } },
    { type: "line", z: 41, shape: { x1: lx1, y1: l2, x2: lx2, y2: l2 }, style: { stroke: RED, lineWidth: 2.8 } },
    txt(legendNames[0], tx, t1, 24.4),
    txt(legendNames[1], tx, t2, 24.4),
  ];
}

function lineSeries(name: string, data: [number, number][], xi: number, yi: number, color: string, z: number) {
  return {
    type: "line", name, data, xAxisIndex: xi, yAxisIndex: yi,
    showSymbol: false, symbol: "none", z, color,
    lineStyle: { color, width: 2.9 }, emphasis: { disabled: true },
  };
}

const [x0, x0m] = xAxisPair(0, 119.21, 304.9, false);
const [x1, x1m] = xAxisPair(1, 119.2, 305.2, true);
const [y0l, y0r] = yAxisPair(0);
const [y1l, y1r] = yAxisPair(1);

const option: any = {
  animation: false,
  backgroundColor: "#ffffff",
  grid: [
    { left: 200.7, top: 26.7, width: 1243.6, height: 447.3, containLabel: false },
    { left: 204, top: 521.7, width: 1235, height: 446, containLabel: false },
  ],
  xAxis: [x0, x0m, x1, x1m],
  yAxis: [y0l, y0r, y1l, y1r],
  series: [
    lineSeries("Discharge", preDischarge, 0, 0, BLUE, 3),
    lineSeries("Tmperature", preTemperature, 0, 1, RED, 4),
    lineSeries("Discharge", postDischarge, 2, 2, BLUE, 3),
    lineSeries("Tmperature", postTemperature, 2, 3, RED, 4),
  ],
  graphic: [
    {
      type: "rect", z: 0, silent: true, shape: { x: 0, y: 480, width: 13, height: 595 },
      style: { fill: new echarts.graphic.LinearGradient(0, 0, 1, 0, [
        { offset: 0, color: "rgba(220,229,245,1)" }, { offset: 1, color: "rgba(255,255,255,0)" }]) },
    },
    {
      type: "rect", z: 0, silent: true, shape: { x: 1585, y: 580, width: 12, height: 495 },
      style: { fill: new echarts.graphic.LinearGradient(1, 0, 0, 0, [
        { offset: 0, color: "rgba(220,229,245,1)" }, { offset: 1, color: "rgba(255,255,255,0)" }]) },
    },
    { type: "line", z: 1, silent: true, shape: { x1: 828.3, y1: 8, x2: 828.3, y2: 998 }, style: { stroke: "#8c8c8c", lineWidth: 1, lineDash: [2, 2] } },
    txt(titleLine1, 916.7, 67.2, 29.4),
    txt(preTitleLine2, 916.7, 100.5, 29.4),
    txt(titleLine1, 915, 562.2, 29.4),
    txt(postTitleLine2, 915, 594.5, 29.4),
    ...legendBox(252.3, 56.7, 252.7, 52.3, 66.7, 92.7, 267.3, 334.3, 341.7, 70.8, 96.8),
    ...legendBox(255, 551, 251, 52.7, 561, 587.3, 270, 336.7, 344, 565.2, 591.8),
    txt("Discharge, cfs", 23, 250.3, 29, { rotation: Math.PI / 2, align: "center" }),
    txt("Discharge, cfs", 28, 744.7, 29, { rotation: Math.PI / 2, align: "center" }),
    txt("Temperature °C", 1571, 250.3, 29, { rotation: -Math.PI / 2, align: "center" }),
    txt("Temperature °C", 1559, 744.7, 29, { rotation: -Math.PI / 2, align: "center" }),
    txt("Julian Day 1981", 822.9, 1054, 28.5, { align: "center" }),
  ],
};

export default function App() {
  const ref = useRef<HTMLDivElement>(null);
  useEffect(() => {
    if (!ref.current) return;
    const chart = echarts.init(ref.current, null, { renderer: "svg" });
    chart.setOption(option);
    return () => chart.dispose();
  }, []);
  return (
    <div
      ref={ref}
      style={{ position: "absolute", left: 0, top: 0, width: W, height: H, background: "#fff" }}
    />
  );
}
